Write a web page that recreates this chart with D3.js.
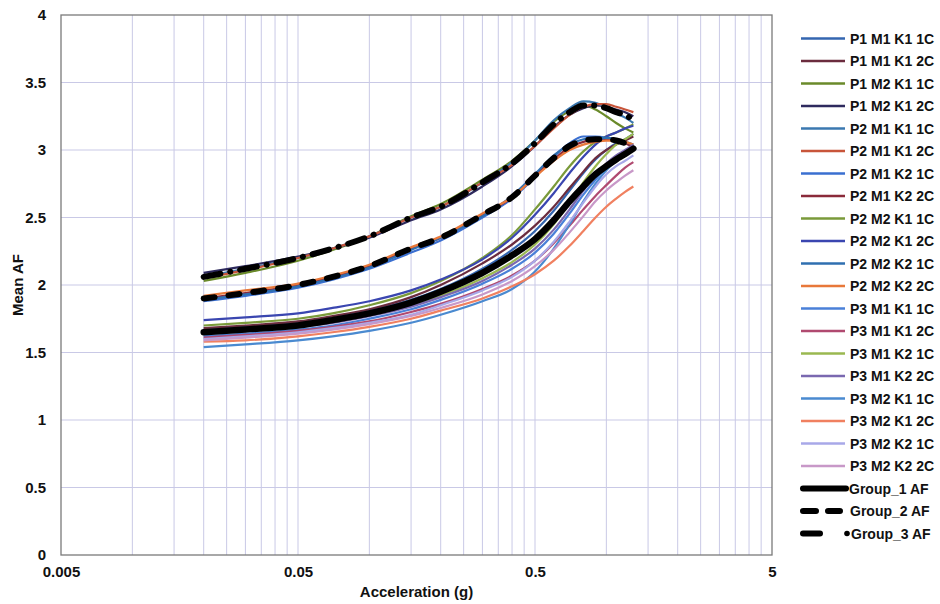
<!DOCTYPE html>
<html><head><meta charset="utf-8">
<script src="https://cdn.jsdelivr.net/npm/d3@7"></script>
<style>body{margin:0;background:#fff}svg{display:block}</style>
</head><body><div id="chart"></div>
<script>
// ---- DATA ----
const accel = [0.02,0.03,0.05,0.07,0.1,0.15,0.2,0.3,0.4,0.5,0.6,0.7,0.8,0.9,1.0,1.1,1.2,1.3];
const xTickLabels = ["0.005","0.05","0.5","5"];
const yTicks = [0,0.5,1,1.5,2,2.5,3,3.5,4];

const P1M1K1_1C = [1.67,1.69,1.72,1.76,1.81,1.89,1.97,2.12,2.26,2.40,2.55,2.70,2.83,2.93,3.00,3.05,3.08,3.12];
const P1M1K1_2C = [1.68,1.70,1.73,1.77,1.82,1.91,2.00,2.16,2.30,2.44,2.58,2.72,2.84,2.94,3.00,3.04,3.07,3.10];
const P1M2K1_1C = [2.03,2.09,2.18,2.26,2.36,2.51,2.60,2.78,2.92,3.07,3.21,3.29,3.33,3.30,3.25,3.20,3.16,3.13];
const P1M2K1_2C = [2.09,2.14,2.21,2.27,2.35,2.48,2.56,2.73,2.88,3.03,3.17,3.26,3.31,3.33,3.32,3.30,3.28,3.25];
const P2M1K1_1C = [2.06,2.12,2.20,2.27,2.36,2.50,2.58,2.76,2.91,3.07,3.22,3.31,3.36,3.35,3.31,3.27,3.24,3.20];
const P2M1K1_2C = [2.05,2.11,2.20,2.27,2.36,2.50,2.58,2.76,2.89,3.03,3.16,3.26,3.32,3.34,3.34,3.32,3.30,3.28];
const P2M1K2_1C = [1.88,1.92,1.98,2.04,2.12,2.24,2.33,2.50,2.64,2.80,2.95,3.05,3.10,3.10,3.09,3.07,3.05,3.03];
const P2M1K2_2C = [1.90,1.94,2.00,2.06,2.14,2.27,2.35,2.52,2.65,2.81,2.93,3.02,3.06,3.08,3.08,3.07,3.05,3.02];
const P2M2K1_1C = [1.70,1.72,1.75,1.79,1.85,1.94,2.03,2.20,2.37,2.56,2.73,2.88,2.99,3.06,3.10,3.13,3.16,3.19];
const P2M2K1_2C = [1.74,1.76,1.79,1.83,1.88,1.96,2.04,2.19,2.35,2.52,2.68,2.83,2.95,3.04,3.10,3.13,3.16,3.18];
const P2M2K2_1C = [1.89,1.93,1.99,2.05,2.13,2.26,2.35,2.51,2.66,2.82,2.96,3.04,3.08,3.09,3.09,3.08,3.06,3.04];
const P2M2K2_2C = [1.92,1.96,2.01,2.07,2.15,2.28,2.36,2.53,2.65,2.80,2.92,3.00,3.04,3.06,3.07,3.07,3.06,3.04];
const P3M1K1_1C = [1.62,1.64,1.67,1.70,1.75,1.82,1.89,2.01,2.12,2.24,2.38,2.53,2.67,2.78,2.87,2.93,2.98,3.02];
const P3M1K1_2C = [1.61,1.63,1.66,1.69,1.73,1.80,1.86,1.97,2.07,2.18,2.31,2.44,2.56,2.66,2.74,2.81,2.87,2.91];
const P3M1K2_1C = [1.65,1.67,1.70,1.73,1.78,1.85,1.92,2.05,2.17,2.30,2.45,2.61,2.76,2.88,2.97,3.04,3.08,3.12];
const P3M1K2_2C = [1.64,1.66,1.69,1.72,1.77,1.84,1.91,2.03,2.15,2.27,2.41,2.56,2.70,2.81,2.90,2.96,3.00,3.04];
const P3M2K1_1C = [1.54,1.56,1.59,1.62,1.66,1.72,1.78,1.88,1.97,2.10,2.27,2.45,2.62,2.75,2.85,2.92,2.96,3.00];
const P3M2K1_2C = [1.58,1.59,1.62,1.65,1.69,1.75,1.81,1.90,1.99,2.08,2.18,2.29,2.40,2.50,2.58,2.64,2.69,2.73];
const P3M2K2_1C = [1.60,1.62,1.65,1.68,1.72,1.78,1.85,1.96,2.06,2.18,2.32,2.47,2.61,2.73,2.82,2.88,2.92,2.96];
const P3M2K2_2C = [1.59,1.61,1.64,1.67,1.71,1.77,1.83,1.93,2.03,2.14,2.26,2.39,2.51,2.62,2.70,2.76,2.81,2.85];
const Group_1 = [1.65,1.67,1.70,1.74,1.79,1.87,1.95,2.09,2.22,2.34,2.48,2.62,2.73,2.82,2.88,2.93,2.97,3.01];
const Group_2 = [1.90,1.94,2.00,2.06,2.14,2.27,2.35,2.52,2.65,2.81,2.94,3.03,3.07,3.08,3.08,3.07,3.05,3.02];
const Group_3 = [2.06,2.12,2.20,2.27,2.36,2.50,2.58,2.76,2.90,3.05,3.19,3.28,3.33,3.33,3.31,3.28,3.26,3.22];

const seriesNames = ["P1 M1 K1 1C","P1 M1 K1 2C","P1 M2 K1 1C","P1 M2 K1 2C","P2 M1 K1 1C","P2 M1 K1 2C","P2 M1 K2 1C","P2 M1 K2 2C","P2 M2 K1 1C","P2 M2 K1 2C","P2 M2 K2 1C","P2 M2 K2 2C","P3 M1 K1 1C","P3 M1 K1 2C","P3 M1 K2 1C","P3 M1 K2 2C","P3 M2 K1 1C","P3 M2 K1 2C","P3 M2 K2 1C","P3 M2 K2 2C"];
const seriesValues = [P1M1K1_1C,P1M1K1_2C,P1M2K1_1C,P1M2K1_2C,P2M1K1_1C,P2M1K1_2C,P2M1K2_1C,P2M1K2_2C,P2M2K1_1C,P2M2K1_2C,P2M2K2_1C,P2M2K2_2C,P3M1K1_1C,P3M1K1_2C,P3M1K2_1C,P3M1K2_2C,P3M2K1_1C,P3M2K1_2C,P3M2K2_1C,P3M2K2_2C];
const seriesColors = ["#3466b0","#6b2c3e","#6a8a2a","#2e2a5e","#3b78b0","#c8553a","#3a6fd0","#8a2a3a","#7a9a3a","#3a46b0","#2f6fb0","#e8783a","#4a80d8","#b04a70","#9ab850","#7a68b0","#4a8ad0","#f08060","#a8a8e8","#c898c8"];
const groupNames = ["Group_1 AF","Group_2 AF","Group_3 AF"];
const groupValues = [Group_1, Group_2, Group_3];

// ---- CHART ----
const W = 940, H = 604;
const L = 61, R = 772, T = 15, B = 555;
const svg = d3.select("#chart").append("svg").attr("width", W).attr("height", H)
  .style("font-family", "'Liberation Sans', Arial, sans-serif");
svg.append("rect").attr("width", W).attr("height", H).attr("fill", "#fff");

const x = d3.scaleLog().domain([0.005, 5]).range([L, R]);
const y = d3.scaleLinear().domain([0, 4]).range([B, T]);

// grid
const minor = [];
[0.005, 0.05, 0.5].forEach(d => { for (let k = 2; k <= 10; k++) minor.push(d * k); });
const grid = svg.append("g");
grid.selectAll("line.v").data(minor.filter(v => v < 5)).join("line")
  .attr("x1", d => x(d)).attr("x2", d => x(d)).attr("y1", T).attr("y2", B)
  .attr("stroke", "#c9c9e6").attr("stroke-width", 1);
grid.selectAll("line.h").data(yTicks.filter(v => v > 0 && v < 4)).join("line")
  .attr("x1", L).attr("x2", R).attr("y1", d => y(d)).attr("y2", d => y(d))
  .attr("stroke", "#c9c9e6").attr("stroke-width", 1);

// frame
svg.append("rect").attr("x", L).attr("y", T).attr("width", R - L).attr("height", B - T)
  .attr("fill", "none").attr("stroke", "#7a7a7a").attr("stroke-width", 1.3);

// axes
const xAxis = d3.axisBottom(x).tickValues([0.005, 0.05, 0.5, 5])
  .tickFormat((d, i) => xTickLabels[i]).tickSize(0).tickPadding(11);
const gx = svg.append("g").attr("transform", `translate(0,${B})`).call(xAxis);
gx.select(".domain").remove();
gx.selectAll("text").attr("font-size", 15).attr("font-weight", "bold").attr("fill", "#111")
  .attr("font-family", "'Liberation Sans', Arial, sans-serif");

const yAxis = d3.axisLeft(y).tickValues(yTicks).tickFormat(d3.format("")).tickSize(0).tickPadding(15);
const gy = svg.append("g").attr("transform", `translate(${L},0)`).call(yAxis);
gy.select(".domain").remove();
gy.selectAll("text").attr("font-size", 15).attr("font-weight", "bold").attr("fill", "#111")
  .attr("font-family", "'Liberation Sans', Arial, sans-serif");

svg.append("text").attr("x", (L + R) / 2).attr("y", 597).attr("text-anchor", "middle")
  .attr("font-size", 15).attr("font-weight", "bold").attr("fill", "#111").text("Acceleration (g)");
svg.append("text").attr("transform", `translate(23,${(T + B) / 2}) rotate(-90)`)
  .attr("text-anchor", "middle").attr("font-size", 15).attr("font-weight", "bold").attr("fill", "#111").text("Mean AF");

// lines
const line = d3.line().x((d, i) => x(accel[i])).y(d => y(d)).curve(d3.curveMonotoneX);
const plot = svg.append("g");
seriesValues.forEach((vals, i) => {
  plot.append("path").attr("d", line(vals)).attr("fill", "none")
    .attr("stroke", seriesColors[i]).attr("stroke-width", 2.2);
});
const groupDash = [null, "11,14", "17,10,0.1,10"];
const groupWidth = [6.5, 6, 6];
groupValues.forEach((vals, i) => {
  const p = plot.append("path").attr("d", line(vals)).attr("fill", "none")
    .attr("stroke", "#000").attr("stroke-width", groupWidth[i]).attr("stroke-linecap", "round");
  if (groupDash[i]) p.attr("stroke-dasharray", groupDash[i]);
});

// legend
const lg = svg.append("g");
const ly = i => 38.5 + 22.5 * i;
seriesNames.forEach((n, i) => {
  lg.append("line").attr("x1", 801).attr("x2", 845).attr("y1", ly(i)).attr("y2", ly(i))
    .attr("stroke", seriesColors[i]).attr("stroke-width", 2.6);
  lg.append("text").attr("x", 850).attr("y", ly(i)).attr("dy", "0.36em")
    .attr("font-size", 14).attr("font-weight", "bold").attr("fill", "#111").text(n);
});
groupNames.forEach((n, j) => {
  const i = seriesNames.length + j;
  const l = lg.append("line").attr("y1", ly(i)).attr("y2", ly(i)).attr("stroke", "#000")
    .attr("stroke-width", 6).attr("stroke-linecap", "round");
  if (j === 0) l.attr("x1", 803).attr("x2", 846);
  if (j === 1) l.attr("x1", 803).attr("x2", 840).attr("stroke-dasharray", "13,12");
  if (j === 2) {
    l.attr("x1", 803).attr("x2", 820);
    lg.append("circle").attr("cx", 847).attr("cy", ly(i)).attr("r", 2.8).attr("fill", "#000");
  }
  lg.append("text").attr("x", j === 0 ? 849 : (j === 2 ? 851 : 850)).attr("y", ly(i)).attr("dy", "0.36em")
    .attr("font-size", 14).attr("font-weight", "bold").attr("fill", "#111").text(n);
});
</script></body></html>
